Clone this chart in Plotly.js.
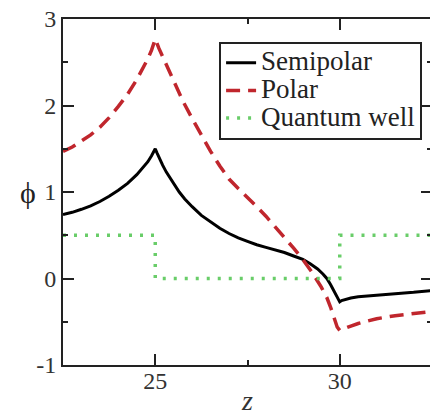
<!DOCTYPE html>
<html>
<head>
<meta charset="utf-8">
<script src="https://cdn.plot.ly/plotly-3.0.1.min.js"></script>
<style>
html,body{margin:0;padding:0;overflow:hidden;background:#fff;width:430px;height:416px;}
#chart{width:434px;height:416px;}
</style>
</head>
<body>
<div id="chart"></div>
<script>
// z positions and potential values
const zSemi = [22.5, 22.75, 23.0, 23.25, 23.5, 23.75, 24.0, 24.25, 24.5, 24.65, 24.8, 24.9, 25.0,
  25.05, 25.1, 25.2, 25.3, 25.4, 25.5, 25.65, 25.8, 26.0, 26.25, 26.5, 26.75, 27.0, 27.25, 27.5, 27.75,
  28.0, 28.25, 28.5, 28.75, 29.0, 29.2, 29.4, 29.55, 29.65, 29.75, 29.85, 29.93, 30.0,
  30.05, 30.15, 30.3, 30.5, 30.75, 31.0, 31.5, 32.0, 32.5];
const phiSemi = [0.74, 0.765, 0.80, 0.84, 0.89, 0.95, 1.02, 1.10, 1.20, 1.27, 1.35, 1.42, 1.50,
  1.45, 1.40, 1.31, 1.23, 1.16, 1.09, 1.00, 0.92, 0.83, 0.73, 0.65, 0.58, 0.52, 0.47, 0.43, 0.39,
  0.36, 0.33, 0.30, 0.26, 0.22, 0.17, 0.11, 0.05, 0.00, -0.07, -0.15, -0.21, -0.27,
  -0.255, -0.24, -0.225, -0.21, -0.20, -0.19, -0.175, -0.16, -0.14];

const zPolar = [22.5, 22.75, 23.0, 23.25, 23.5, 23.75, 24.0, 24.25, 24.5, 24.65, 24.8, 24.9, 25.0,
  25.1, 25.25, 25.5, 25.75, 26.0, 26.25, 26.5, 26.75, 27.0, 27.25, 27.5, 27.75, 28.0, 28.25, 28.5, 28.75,
  29.0, 29.25, 29.5, 29.65, 29.75, 29.85, 29.93, 30.0,
  30.05, 30.15, 30.3, 30.5, 30.75, 31.0, 31.5, 32.0, 32.5];
const phiPolar = [1.47, 1.52, 1.59, 1.66, 1.75, 1.86, 1.99, 2.13, 2.30, 2.41, 2.54, 2.64, 2.77,
  2.66, 2.52, 2.28, 2.05, 1.85, 1.65, 1.47, 1.30, 1.15, 1.04, 0.94, 0.83, 0.72, 0.60, 0.48, 0.35,
  0.22, 0.07, -0.10, -0.22, -0.33, -0.47, -0.56, -0.60,
  -0.59, -0.575, -0.55, -0.52, -0.49, -0.465, -0.43, -0.40, -0.38];

const zWell = [22.5, 25, 25, 30, 30, 32.5];
const phiWell = [0.5, 0.5, 0, 0, 0.5, 0.5];

const seriesNames = ['Semipolar', 'Polar', 'Quantum well'];
const xTickVals = [25, 30];
const xTickText = ['25', '30'];
const yTickVals = [-1, 0, 1, 2, 3];
const yTickText = ['-1', '0', '1', '2', '3'];
const xTitle = 'z';
const yTitle = '\u03D5';

const serif = 'Liberation Serif, Times New Roman, serif';
const legendName = n => '<span style="font-size:27px">' + n + '</span>';

const traces = [
  {x: zSemi, y: phiSemi, name: legendName(seriesNames[0]), mode: 'lines',
   line: {color: '#000000', width: 3}},
  {x: zPolar, y: phiPolar, name: legendName(seriesNames[1]), mode: 'lines',
   line: {color: '#c0262d', width: 3.5, dash: '14px,8px'}},
  {x: zWell, y: phiWell, name: legendName(seriesNames[2]), mode: 'lines',
   line: {color: 'rgb(105,205,105)', width: 3.5, dash: '3px,8px'}}
];

const axisCommon = {
  showgrid: false, zeroline: false, showline: true, linecolor: '#222', linewidth: 2,
  mirror: 'ticks', ticks: 'inside', ticklen: 11, tickwidth: 2, tickcolor: '#222',
  tickfont: {family: serif, size: 24, color: '#333'}
};

const layout = {
  width: 434, height: 416,
  font: {family: serif},
  margin: {l: 63, r: 2, t: 19, b: 51},
  paper_bgcolor: '#ffffff', plot_bgcolor: '#ffffff',
  showlegend: true,
  legend: {
    x: 0.423, y: 0.934, xanchor: 'left', yanchor: 'top',
    bgcolor: '#ffffff', bordercolor: '#222', borderwidth: 2,
    font: {family: serif, size: 19, color: '#222'},
    tracegroupgap: 0
  },
  xaxis: Object.assign({}, axisCommon, {
    range: [22.5, 32.5], tickmode: 'array', tickvals: xTickVals, ticktext: xTickText,
    ticklabelstandoff: -7,
    minor: {dtick: 2.5, tick0: 22.5, ticks: 'inside', ticklen: 5, tickwidth: 2, tickcolor: '#222'},
    title: {text: '<i>' + xTitle + '</i>', font: {family: serif, size: 28, color: '#333'}, standoff: 4}
  }),
  yaxis: Object.assign({}, axisCommon, {
    range: [-1, 3], tickmode: 'array', tickvals: yTickVals, ticktext: yTickText,
    minor: {dtick: 0.5, tick0: 0, ticks: 'inside', ticklen: 5, tickwidth: 2, tickcolor: '#222'}
  }),
  annotations: [
    {text: yTitle, xref: 'paper', yref: 'paper', x: 0, y: 0.5, xanchor: 'center', yanchor: 'middle',
     xshift: -35, showarrow: false, font: {family: serif, size: 30, color: '#222'}}
  ]
};

Plotly.newPlot('chart', traces, layout, {staticPlot: true, displayModeBar: false});
</script>
</body>
</html>
